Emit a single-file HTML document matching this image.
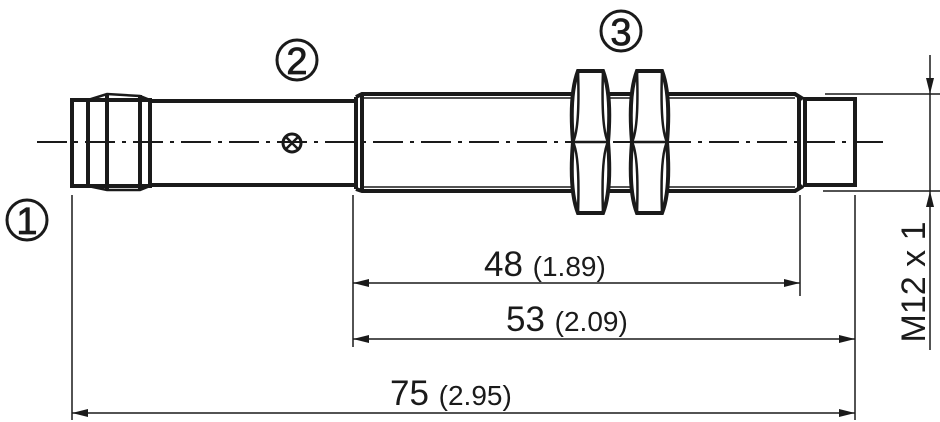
<!DOCTYPE html>
<html><head><style>html,body{margin:0;padding:0;background:#fff;}svg{display:block;}</style></head><body>
<svg width="940" height="422" viewBox="0 0 940 422" xmlns="http://www.w3.org/2000/svg" font-family="Liberation Sans, sans-serif">
<defs>
<marker id="a" markerWidth="16" markerHeight="8" refX="16" refY="4" orient="auto-start-reverse" markerUnits="userSpaceOnUse"><path d="M0,0 L16,4 L0,8 Z" fill="#1a1a1a"/></marker>
</defs>
<g stroke="#1a1a1a" fill="none">
<line x1="37" y1="142" x2="883" y2="142" stroke-width="2" stroke-dasharray="30,7,4,7"/>
<g stroke-width="4">
<rect x="72" y="100" width="78" height="86"/>
<line x1="88" y1="100" x2="88" y2="186"/>
<line x1="107" y1="95" x2="107" y2="190"/>
<line x1="140" y1="95" x2="140" y2="190"/>
</g>
<path d="M88,100 L107,94 L140,96 L150,100 M88,186 L107,190 L140,190 L150,186" stroke-width="2.5"/>
<line x1="107" y1="99" x2="140" y2="99" stroke-width="1.5"/>
<line x1="107" y1="187" x2="140" y2="187" stroke-width="1.5"/>
<g stroke-width="4">
<line x1="150" y1="101" x2="356" y2="101"/>
<line x1="150" y1="185" x2="356" y2="185"/>
<line x1="356" y1="97" x2="356" y2="189"/>
</g>
<g stroke-width="4">
<path d="M356,97 L362,94 L795,94 L803,99"/>
<path d="M356,189 L362,191 L795,191 L803,186"/>
<line x1="362" y1="94" x2="362" y2="191"/>
<line x1="799" y1="97" x2="799" y2="189"/>
<rect x="805" y="99" width="50" height="86"/>
</g>
<line x1="362" y1="98" x2="795" y2="98" stroke-width="1.5"/>
<line x1="362" y1="187" x2="795" y2="187" stroke-width="1.5"/>
<g stroke-width="4" fill="#fff">
<path d="M578,71 L603,71 Q612,95 608,142 Q612,190 603,213 L578,213 Q569,190 573,142 Q569,95 578,71 Z"/>
<path d="M637,71 L662,71 Q671,95 667,142 Q671,190 662,213 L637,213 Q628,190 632,142 Q628,95 637,71 Z"/>
</g>
<g stroke-width="2.5">
<path d="M573,142 Q580,128 578,71 M608,142 Q601,128 603,71 M573,142 Q580,156 578,213 M608,142 Q601,156 603,213"/>
<path d="M632,142 Q639,128 637,71 M667,142 Q660,128 662,71 M632,142 Q639,156 637,213 M667,142 Q660,156 662,213"/>
<line x1="573" y1="142" x2="608" y2="142"/><line x1="632" y1="142" x2="667" y2="142"/>
</g>
<circle cx="292" cy="143" r="9" stroke-width="3"/>
<path d="M286,137 L298,149 M298,137 L286,149" stroke-width="2.5"/>
<g stroke-width="1.5">
<line x1="72" y1="195" x2="72" y2="420"/>
<line x1="353" y1="195" x2="353" y2="347"/>
<line x1="800" y1="195" x2="800" y2="296"/>
<line x1="855" y1="195" x2="855" y2="420"/>
<line x1="825" y1="94" x2="940" y2="94"/>
<line x1="823" y1="191" x2="940" y2="191"/>
<line x1="930" y1="55" x2="930" y2="94" marker-end="url(#a)"/>
<line x1="930" y1="350" x2="930" y2="191" marker-end="url(#a)"/>
<line x1="930" y1="94" x2="930" y2="191"/>
<line x1="353" y1="283" x2="800" y2="283" marker-start="url(#a)" marker-end="url(#a)"/>
<line x1="353" y1="339" x2="855" y2="339" marker-start="url(#a)" marker-end="url(#a)"/>
<line x1="72" y1="413" x2="855" y2="413" marker-start="url(#a)" marker-end="url(#a)"/>
</g>
<circle cx="27" cy="220" r="20" stroke-width="3"/>
<circle cx="297" cy="60" r="20" stroke-width="3"/>
<circle cx="621" cy="31" r="20" stroke-width="3"/>
</g>
<g fill="#1a1a1a" text-anchor="middle" stroke="#1a1a1a" stroke-width="0.8">
<text x="27" y="234" font-size="38">1</text>
<text x="297" y="74" font-size="38">2</text>
<text x="621" y="45" font-size="38">3</text>
</g>
<g fill="#1a1a1a">
<text x="484" y="276" font-size="35">48 <tspan font-size="28">(1.89)</tspan></text>
<text x="506" y="331" font-size="35">53 <tspan font-size="28">(2.09)</tspan></text>
<text x="390" y="405" font-size="35">75 <tspan font-size="28">(2.95)</tspan></text>
<text transform="translate(925,282) rotate(-90)" text-anchor="middle" font-size="34">M12 x 1</text>
</g>
</svg>
</body></html>
